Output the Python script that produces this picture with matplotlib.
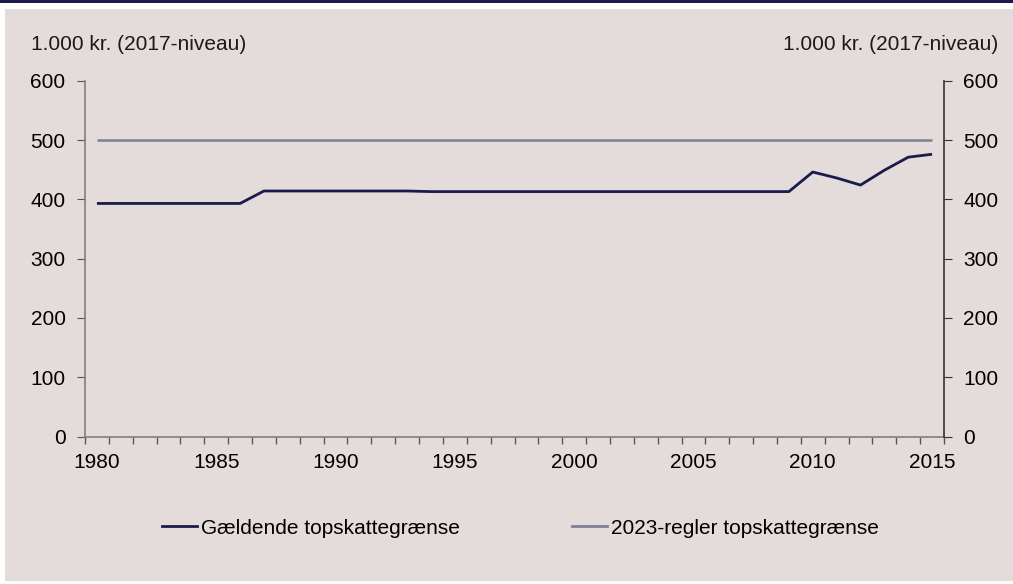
import matplotlib
matplotlib.use("Agg")
import matplotlib.pyplot as plt
from matplotlib.patches import Rectangle
from matplotlib.lines import Line2D

plt.rcParams['font.family'] = ['Liberation Sans', 'DejaVu Sans']

years = list(range(1980, 2016))
gaeldende = [393]*7 + [414]*7 + [413]*16 + [446, 436, 424, 449, 471, 476]
regler2023 = [500]*len(years)
y_ticks = [0, 100, 200, 300, 400, 500, 600]
x_labels = [1980, 1985, 1990, 1995, 2000, 2005, 2010, 2015]
unit = "1.000 kr. (2017-niveau)"
names = ["Gældende topskattegrænse", "2023-regler topskattegrænse"]

FS = 15
W, H = 1013, 584
fig = plt.figure(figsize=(W/100, H/100), dpi=100, facecolor='white')
bg = '#E3DCDA'
fig.patches.append(Rectangle((5/W, 1-581/H), 1-5/W, (581-9)/H, transform=fig.transFigure,
                             facecolor=bg, edgecolor='none', zorder=-5))
fig.patches.append(Rectangle((0, 1-2.5/H), 1, 2.5/H, transform=fig.transFigure,
                             facecolor='#1B1B4B', edgecolor='none', zorder=-5))

ax = fig.add_axes([85/W, 1-436.5/H, (944-85)/W, (436.5-80.7)/H])
ax.set_facecolor('none')
navy = '#1B1B4B'
grey = '#7E7E98'
ax.plot(years, regler2023, color=grey, lw=1.8, solid_capstyle='butt')
ax.plot(years, gaeldende, color=navy, lw=2.0, solid_capstyle='butt')

ax.set_xlim(1979.5, 2015.5)
ax.set_ylim(0, 600)
ax.set_yticks(y_ticks)
ax.set_xticks([y - 0.5 for y in range(1980, 2017)])
ax.set_xticklabels([])
ax.set_xticks(x_labels, minor=True)
ax.set_xticklabels([str(v) for v in x_labels], minor=True)
ax.tick_params(axis='x', which='major', length=5, direction='out', color='#555555', width=1)
ax.tick_params(axis='x', which='minor', length=0, pad=12, labelsize=FS)
ax.tick_params(axis='y', length=6, direction='out', labelsize=FS, color='#555555', pad=8)

ax.spines['top'].set_visible(False)
ax.spines['right'].set_visible(False)
ax.spines['left'].set_color('#808080')
ax.spines['bottom'].set_color('#808080')
ax.spines['left'].set_linewidth(1.2)
ax.spines['bottom'].set_linewidth(1.2)

ax2 = ax.twinx()
ax2.set_ylim(0, 600)
ax2.set_yticks(y_ticks)
ax2.tick_params(axis='y', length=6, direction='out', labelsize=FS, color='#333333', pad=8)
for s in ['top', 'left', 'bottom']:
    ax2.spines[s].set_visible(False)
ax2.spines['right'].set_color('#333333')
ax2.spines['right'].set_linewidth(1.2)

fig.text(31/W, 1-45/H, unit, fontsize=FS, ha='left', va='center', color='#1a1a1a')
fig.text(998/W, 1-45/H, unit, fontsize=FS, ha='right', va='center', color='#1a1a1a')

colors = [navy, grey]
xs = [162, 572]
for name, c, x0 in zip(names, colors, xs):
    fig.legend([Line2D([], [], color=c, lw=2.0)], [name], loc='center left',
               bbox_to_anchor=(x0/W, 1-528/H), frameon=False, fontsize=FS,
               handlelength=1.7, handletextpad=0.15, borderpad=0, borderaxespad=0)

fig.savefig('out.png', dpi=100, facecolor='white')
